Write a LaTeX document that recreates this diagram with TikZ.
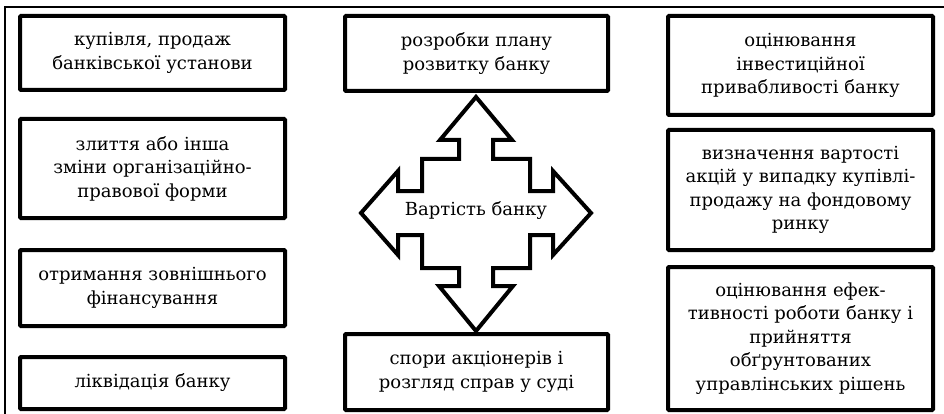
\documentclass[tikz,border=0pt]{standalone}
\usepackage{fontspec}
\setmainfont{DejaVu Serif}
\begin{document}
\begin{tikzpicture}[x=1pt,y=-1pt,
  box/.style={draw=black, line width=4pt, rounded corners=1pt, align=center,
    inner sep=0pt, font=\fontsize{18}{23.5}\selectfont},
  lbox/.style={box, minimum width=265pt},
  cbox/.style={box, minimum width=263pt},
  frame/.style={line width=1.6pt},
  crossarrow/.style={draw=black, line width=4pt, line join=miter, fill=white}]
\useasboundingbox (0,0) rectangle (944,414);
\draw[frame] (5,414) -- (5,7) -- (944,7);
% left column
\node[lbox, minimum height=74pt] (l1) at (152.5,53) {купівля, продаж\\банківської установи};
\node[lbox, minimum height=99pt] (l2) at (152.5,168.5) {злиття або інша\\зміни організаційно-\\правової форми};
\node[lbox, minimum height=76pt] (l3) at (152.5,288) {отримання зовнішнього\\фінансування};
\node[lbox, minimum height=52pt] (l4) at (152.5,383) {ліквідація банку};
% centre column
\node[cbox, minimum height=75pt] (c1) at (476.5,53.5) {розробки плану\\розвитку банку};
\node[cbox, minimum height=76pt] (c2) at (476.5,372) {спори акціонерів і\\розгляд справ у суді};
% right column
\node[lbox, minimum height=99pt] (r1) at (800.5,65.5) {оцінювання\\інвестиційної\\привабливості банку};
\node[lbox, minimum height=120pt] (r2) at (800.5,190) {визначення вартості\\акцій у випадку купівлі-\\продажу на фондовому\\ринку};
\node[lbox, minimum height=143pt] (r3) at (800.5,338.5) {оцінювання ефек-\\тивності роботи банку і\\прийняття\\обґрунтованих\\управлінських рішень};
% four-way arrow
\draw[crossarrow] (476,97) -- (512,140) -- (493,140) -- (493,159) -- (530,159)
  -- (530,191) -- (553,191) -- (553,171) -- (591,213) -- (553,255) -- (553,235)
  -- (530,235) -- (530,268) -- (493,268) -- (493,286) -- (513,286) -- (476,331)
  -- (439,286) -- (459,286) -- (459,268) -- (422,268) -- (422,235) -- (398,235)
  -- (398,255) -- (361,213) -- (398,171) -- (398,191) -- (422,191) -- (422,159)
  -- (459,159) -- (459,140) -- (440,140) -- cycle;
\node[font=\fontsize{18}{23.5}\selectfont, inner sep=0pt] (val) at (476,211) {Вартість банку};
\end{tikzpicture}
\end{document}
